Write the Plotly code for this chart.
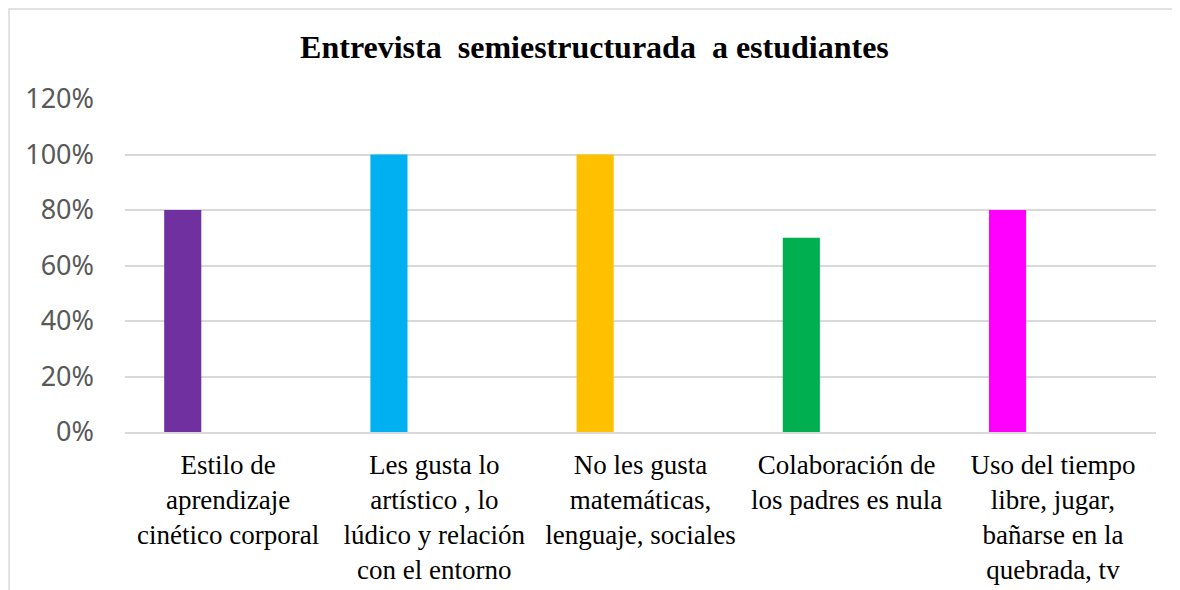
import plotly.graph_objects as go

# datos
categorias = [
    "Estilo de<br>aprendizaje<br>cinético corporal",
    "Les gusta lo<br>artístico , lo<br>lúdico y relación<br>con el entorno",
    "No les gusta<br>matemáticas,<br>lenguaje, sociales",
    "Colaboración de<br>los padres es nula",
    "Uso del tiempo<br>libre, jugar,<br>bañarse en la<br>quebrada, tv",
]
valores = [0.80, 1.00, 1.00, 0.70, 0.80]
colores = ["#7030A0", "#00B0F0", "#FFC000", "#00B050", "#FF00FF"]
titulo = "Entrevista\u00a0 semiestructurada\u00a0 a estudiantes"

fig = go.Figure()

fig.add_trace(go.Bar(
    x=categorias,
    y=valores,
    marker=dict(color=colores, line=dict(width=0)),
    width=0.18,
    offset=-0.31,
    showlegend=False,
    hoverinfo="skip",
))

# marco del area del grafico (sale por la derecha y por abajo)
fig.add_shape(
    type="rect", xref="paper", yref="paper",
    x0=-0.1125, x1=1.1, y0=-0.6, y1=1.270,
    line=dict(color="#D9D9D9", width=1.5),
    fillcolor="rgba(0,0,0,0)",
    layer="below",
)

fig.update_layout(
    width=1180,
    height=590,
    margin=dict(l=117, r=32, t=91, b=166),
    paper_bgcolor="white",
    plot_bgcolor="white",
    title=dict(
        text="<b>" + titulo + "</b>",
        font=dict(family="Liberation Serif", size=32, color="black"),
        x=0.497, xref="container", xanchor="center",
        y=0.934, yref="container", yanchor="middle",
    ),
    xaxis=dict(
        type="category",
        showgrid=False,
        showline=True,
        linecolor="#D9D9D9",
        linewidth=1.5,
        ticks="",
        ticklabelstandoff=8,
        tickfont=dict(family="Liberation Serif", size=27, color="black"),
    ),
    yaxis=dict(
        range=[0, 1.2],
        dtick=0.2,
        tickformat=".0%",
        showgrid=True,
        gridcolor="#D9D9D9",
        gridwidth=1.5,
        zeroline=False,
        showline=False,
        ticks="",
        ticklabelstandoff=30,
        tickfont=dict(family="Noto Sans", size=27, color="#595959"),
    ),
)

fig.write_html("out.html")
